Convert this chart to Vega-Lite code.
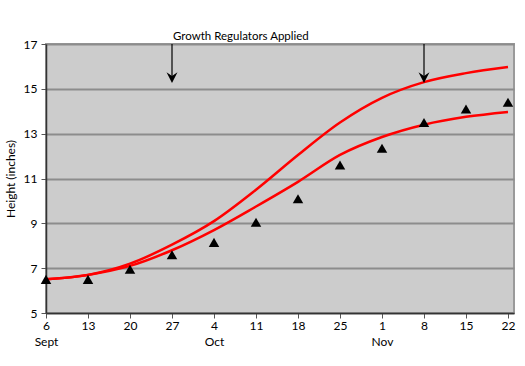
{
  "$schema": "https://vega.github.io/schema/vega-lite/v6.json",
  "width": 468,
  "height": 269,
  "autosize": {"type": "none"},
  "padding": {"left": 46, "top": 44, "right": 11, "bottom": 53},
  "background": "white",
  "config": {
    "view": {"fill": "#cccccc", "stroke": "#9a9a9a", "strokeWidth": 2},
    "font": "Lato",
    "axis": {"labelFont": "Lato", "titleFont": "Lato", "labelColor": "#000", "titleColor": "#000"}
  },
  "datasets": {
    "points": [
      {"date": "2009-09-06", "height": 6.5},
      {"date": "2009-09-13", "height": 6.5},
      {"date": "2009-09-20", "height": 6.95},
      {"date": "2009-09-27", "height": 7.6},
      {"date": "2009-10-04", "height": 8.15},
      {"date": "2009-10-11", "height": 9.05},
      {"date": "2009-10-18", "height": 10.1},
      {"date": "2009-10-25", "height": 11.6},
      {"date": "2009-11-01", "height": 12.35},
      {"date": "2009-11-08", "height": 13.5},
      {"date": "2009-11-15", "height": 14.1},
      {"date": "2009-11-22", "height": 14.4}
    ],
    "curves": [
      {"series": "upper", "date": "2009-09-06", "height": 6.5},
      {"series": "upper", "date": "2009-09-13", "height": 6.7},
      {"series": "upper", "date": "2009-09-20", "height": 7.2},
      {"series": "upper", "date": "2009-09-27", "height": 8.05},
      {"series": "upper", "date": "2009-10-04", "height": 9.1},
      {"series": "upper", "date": "2009-10-11", "height": 10.5},
      {"series": "upper", "date": "2009-10-18", "height": 12.05},
      {"series": "upper", "date": "2009-10-25", "height": 13.5},
      {"series": "upper", "date": "2009-11-01", "height": 14.6},
      {"series": "upper", "date": "2009-11-08", "height": 15.3},
      {"series": "upper", "date": "2009-11-15", "height": 15.7},
      {"series": "upper", "date": "2009-11-22", "height": 15.97},
      {"series": "lower", "date": "2009-09-06", "height": 6.5},
      {"series": "lower", "date": "2009-09-13", "height": 6.7},
      {"series": "lower", "date": "2009-09-20", "height": 7.1},
      {"series": "lower", "date": "2009-09-27", "height": 7.8},
      {"series": "lower", "date": "2009-10-04", "height": 8.7},
      {"series": "lower", "date": "2009-10-11", "height": 9.75},
      {"series": "lower", "date": "2009-10-18", "height": 10.85},
      {"series": "lower", "date": "2009-10-25", "height": 12.05},
      {"series": "lower", "date": "2009-11-01", "height": 12.85},
      {"series": "lower", "date": "2009-11-08", "height": 13.4},
      {"series": "lower", "date": "2009-11-15", "height": 13.75},
      {"series": "lower", "date": "2009-11-22", "height": 13.97}
    ],
    "arrows": [
      {"date": "2009-09-27", "top": 17, "end": 15.35, "head": 15.5, "label": "Growth Regulators Applied"},
      {"date": "2009-11-08", "top": 17, "end": 15.35, "head": 15.5, "label": ""}
    ]
  },
  "layer": [
    {
      "data": {"name": "curves"},
      "mark": {"type": "line", "color": "#ff0000", "strokeWidth": 2.5, "interpolate": "monotone", "clip": true},
      "encoding": {
        "x": {
          "field": "date", "type": "temporal",
          "scale": {"type": "utc", "domain": [{"year": 2009, "month": 9, "date": 6, "utc": true}, {"year": 2009, "month": 11, "date": 23, "utc": true}], "nice": false},
          "axis": {
            "title": null,
            "grid": false,
            "tickCount": {"interval": "week", "step": 1},
            "labelExpr": "[utcFormat(datum.value, '%-d'), utcdate(datum.value) <= 7 ? ['Jan','Feb','Mar','Apr','May','Jun','Jul','Aug','Sept','Oct','Nov','Dec'][utcmonth(datum.value)] : '']",
            "labelFontSize": 12,
            "labelLineHeight": 16,
            "labelPadding": 2,
            "labelFlush": false,
            "labelOverlap": false,
            "tickSize": 5,
            "tickColor": "#555",
            "domainColor": "#333",
            "domainWidth": 1.5
          }
        },
        "y": {
          "field": "height", "type": "quantitative",
          "scale": {"domain": [5, 17], "nice": false, "zero": false},
          "axis": {
            "title": "Height (inches)",
            "titleFontSize": 12,
            "titleFontWeight": "normal",
            "titlePadding": 6,
            "values": [5, 7, 9, 11, 13, 15, 17],
            "labelFontSize": 12,
            "labelPadding": 4,
            "tickSize": 5,
            "tickColor": "#555",
            "domainColor": "#333",
            "domainWidth": 1.5,
            "grid": true,
            "gridColor": "#8c8c8c",
            "gridWidth": 2
          }
        },
        "detail": {"field": "series"}
      }
    },
    {
      "data": {"name": "points"},
      "mark": {"type": "point", "shape": "triangle-up", "filled": true, "color": "#000", "opacity": 1, "size": 110},
      "encoding": {
        "x": {"field": "date", "type": "temporal"},
        "y": {"field": "height", "type": "quantitative"}
      }
    },
    {
      "data": {"name": "arrows"},
      "mark": {"type": "rule", "color": "#000", "strokeWidth": 1.2},
      "encoding": {
        "x": {"field": "date", "type": "temporal"},
        "y": {"field": "top", "type": "quantitative"},
        "y2": {"field": "end"}
      }
    },
    {
      "data": {"name": "arrows"},
      "mark": {"type": "point", "shape": "M-1,-1L0,1L1,-1L0,-0.3Z", "filled": true, "color": "#000", "opacity": 1, "size": 120},
      "encoding": {
        "x": {"field": "date", "type": "temporal"},
        "y": {"field": "head", "type": "quantitative"}
      }
    },
    {
      "data": {"name": "arrows"},
      "mark": {"type": "text", "align": "left", "baseline": "alphabetic", "dy": -4, "dx": 1, "fontSize": 11.5, "font": "Lato", "color": "#000", "clip": false},
      "encoding": {
        "x": {"field": "date", "type": "temporal"},
        "y": {"field": "top", "type": "quantitative"},
        "text": {"field": "label"}
      }
    }
  ]
}
